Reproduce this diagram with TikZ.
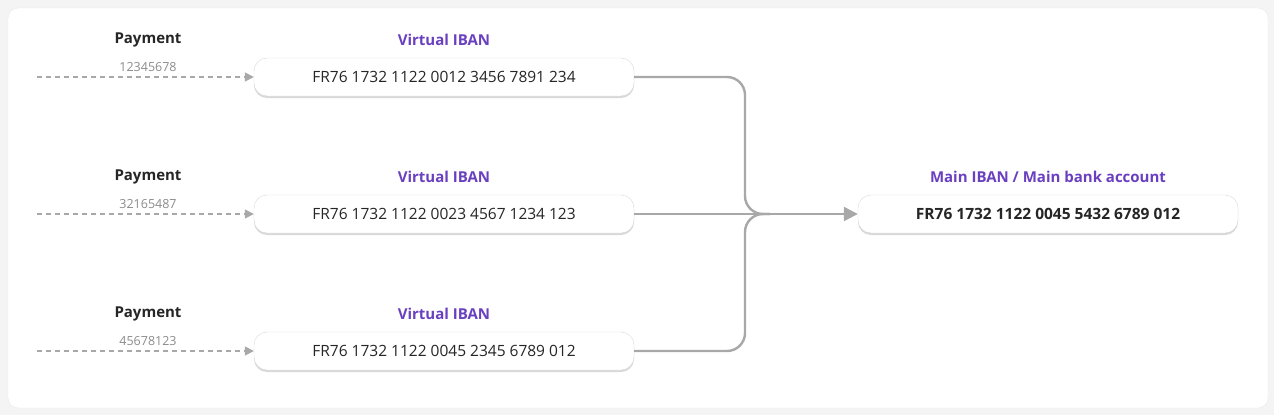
\documentclass[tikz,border=0pt]{standalone}
\usepackage{fontspec}
\setmainfont{Open Sans}
\usetikzlibrary{positioning, arrows.meta, shadows}
\definecolor{violetlabel}{HTML}{6A3FC0}
\definecolor{linegray}{HTML}{A8A8A8}
\definecolor{backgray}{HTML}{F4F4F4}

\begin{document}
\begin{tikzpicture}[x=1pt, y=-1pt,
    ibannode/.style={rounded corners=13pt, draw=black!15, fill=white, minimum width=380pt, minimum height=38pt,
        font=\fontsize{15.5}{18}\selectfont, text=black!85, drop shadow={shadow xshift=0pt, shadow yshift=-2pt, opacity=0.3}},
    paylabel/.style={font=\fontsize{15}{18}\selectfont\bfseries, text=black!85},
    ibanlabel/.style={font=\fontsize{15}{18}\selectfont\bfseries, text=violetlabel},
    refnum/.style={font=\fontsize{12.5}{14}\selectfont, text=black!45},
    dasharrow/.style={dash pattern=on 5pt off 4pt, linegray, line width=1.6pt, -{Triangle[length=9pt, width=9pt]}},
    mergeline/.style={linegray, line width=2.4pt, rounded corners=18pt},
]
\fill[backgray] (0,0) rectangle (1274,415);
\fill[white, rounded corners=10pt, draw=black!8] (8,8) rectangle (1268,408);
\useasboundingbox (0,0) rectangle (1274,415);

% main account
\node[ibannode, font=\fontsize{15.5}{18}\selectfont\bfseries](main) at (1048,214){FR76 1732 1122 0045 5432 6789 012};
\node[ibanlabel](mainlabel) at (1048,177){Main IBAN / Main bank account};
\coordinate (merge) at (770,214);

% virtual accounts
\foreach \i/\y/\num/\iban in {1/77/12345678/FR76 1732 1122 0012 3456 7891 234,
                              2/214/32165487/FR76 1732 1122 0023 4567 1234 123,
                              3/351/45678123/FR76 1732 1122 0045 2345 6789 012}{
    \node[ibannode](v\i) at (444,\y){\iban};
    \node[ibanlabel](vl\i) at (444,\y-37){Virtual IBAN};
    \node[paylabel](p\i) at (148,\y-37){Payment};
    \node[refnum](n\i) at (148,\y-10){\num};
    \coordinate (s\i) at (37,\y);
    \draw[dasharrow] (s\i) -- (v\i.west);
}

\draw[mergeline] (v1.east) -- (745,77) -- (745,214) -- (merge);
\draw[mergeline] (v3.east) -- (745,351) -- (745,214) -- (merge);
\draw[linegray, line width=2.4pt, -{Triangle[length=14pt, width=14pt]}] (v2.east) -- (main.west);
\end{tikzpicture}
\end{document}
